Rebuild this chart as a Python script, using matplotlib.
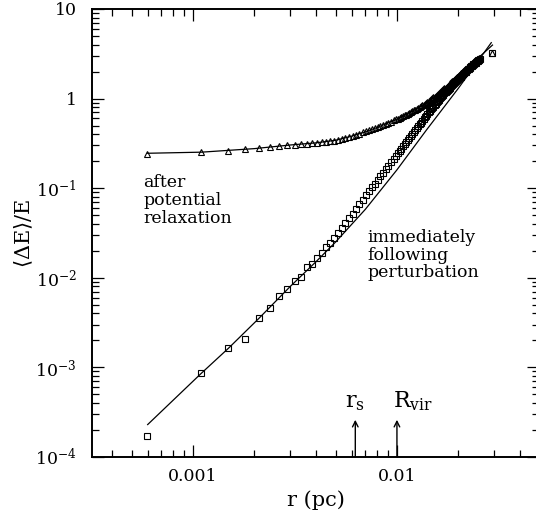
import numpy as np
import matplotlib
matplotlib.use("Agg")
import matplotlib.pyplot as plt
from matplotlib.ticker import FixedLocator, LogLocator, NullFormatter, FixedFormatter

# radii of the shells (pc)
r_pts = [0.000596, 0.00110, 0.00149, 0.00180, 0.00210, 0.00238, 0.00265, 0.00290,
         0.00315, 0.00337, 0.00361, 0.00383, 0.00405, 0.00427, 0.00449, 0.00469,
         0.00491,
         0.00513, 0.00536, 0.00559, 0.00582, 0.00606, 0.0063, 0.00654, 0.00678,
         0.00703, 0.00728, 0.00753, 0.00778, 0.00804, 0.0083, 0.00856, 0.00882,
         0.00909, 0.00936, 0.00963, 0.0099,
         0.0101, 0.0103, 0.0105, 0.0107, 0.0109, 0.0111, 0.0113, 0.0115, 0.0117,
         0.0119, 0.0121, 0.0123, 0.0125, 0.0127, 0.0129, 0.0131, 0.0133, 0.0135,
         0.0137, 0.0139, 0.0141, 0.0143, 0.0145, 0.0147, 0.0149, 0.0151, 0.0153,
         0.0155, 0.0157, 0.0159, 0.0161, 0.0163, 0.0165, 0.0167, 0.0169, 0.0171,
         0.0173, 0.0175, 0.0177, 0.0179, 0.0181, 0.0183, 0.0185, 0.0187, 0.0189,
         0.0191, 0.0193, 0.0195, 0.0197, 0.0199, 0.0201, 0.0203, 0.0205, 0.0207,
         0.0209, 0.0211, 0.0213, 0.0215, 0.0217, 0.0219, 0.0221, 0.0223, 0.0225,
         0.0227, 0.0229, 0.0231, 0.0233, 0.0235, 0.0237, 0.0239, 0.0241, 0.0243,
         0.0245, 0.0247, 0.0249, 0.0251, 0.0253, 0.0255, 0.0294]

# <dE>/E after potential relaxation (triangles)
dE_relax = [0.240, 0.252, 0.262, 0.272, 0.279, 0.288, 0.296, 0.301,
            0.306, 0.311, 0.314, 0.317, 0.320, 0.324, 0.328, 0.332,
            0.336,
            0.345, 0.354, 0.363, 0.373, 0.384, 0.396, 0.407, 0.418,
            0.430, 0.442, 0.454, 0.466, 0.480, 0.494, 0.508, 0.522,
            0.537, 0.553, 0.569, 0.585,
            0.597, 0.610, 0.622, 0.635, 0.648, 0.662, 0.676, 0.690, 0.705,
            0.720, 0.736, 0.752, 0.768, 0.785, 0.802, 0.820, 0.838, 0.857,
            0.877, 0.897, 0.918, 0.940, 0.962, 0.985, 1.007, 1.030, 1.052,
            1.075, 1.100, 1.125, 1.152, 1.180, 1.207, 1.235, 1.265, 1.295,
            1.325, 1.355, 1.387, 1.420, 1.452, 1.485, 1.517, 1.550, 1.585,
            1.620, 1.655, 1.690, 1.725, 1.760, 1.797, 1.835, 1.872, 1.910,
            1.947, 1.985, 2.022, 2.060, 2.100, 2.140, 2.180, 2.220, 2.260,
            2.300, 2.340, 2.380, 2.420, 2.460, 2.500, 2.540, 2.580, 2.620,
            2.660, 2.700, 2.740, 2.780, 2.820, 2.860, 3.25]

# <dE>/E immediately following the perturbation (squares)
dE_immed = [1.71e-4, 8.65e-4, 1.65e-3, 2.07e-3, 3.59e-3, 4.64e-3, 6.26e-3, 7.44e-3,
            9.2e-3, 1.01e-2, 1.33e-2, 1.43e-2, 1.65e-2, 1.90e-2, 2.18e-2, 2.45e-2,
            2.77e-2,
            0.0315, 0.036, 0.041, 0.046, 0.052, 0.059, 0.066, 0.074,
            0.083, 0.092, 0.102, 0.112, 0.124, 0.136, 0.149, 0.163,
            0.178, 0.194, 0.211, 0.229,
            0.244, 0.260, 0.275, 0.292, 0.308, 0.326, 0.344, 0.363, 0.383,
            0.403, 0.424, 0.446, 0.469, 0.492, 0.516, 0.540, 0.565, 0.592,
            0.619, 0.645, 0.672, 0.699, 0.727, 0.755, 0.784, 0.814, 0.846,
            0.878, 0.910, 0.942, 0.974, 1.006, 1.040, 1.074, 1.107, 1.140,
            1.175, 1.210, 1.245, 1.280, 1.317, 1.355, 1.390, 1.425, 1.460,
            1.495, 1.530, 1.560, 1.600, 1.640, 1.680, 1.720, 1.760, 1.800,
            1.840, 1.880, 1.920, 1.960, 2.000, 2.040, 2.080, 2.120, 2.160,
            2.200, 2.240, 2.280, 2.320, 2.360, 2.400, 2.440, 2.480, 2.520,
            2.560, 2.600, 2.640, 2.680, 2.720, 2.760, 3.20]

# model curves
r_mod_relax = [0.0006, 0.0011, 0.002, 0.003, 0.004, 0.005, 0.006, 0.007, 0.008,
               0.010, 0.012, 0.014, 0.017, 0.020, 0.024, 0.0294]
dE_mod_relax = [0.245, 0.252, 0.276, 0.303, 0.320, 0.342, 0.380, 0.425, 0.475,
                0.590, 0.730, 0.900, 1.30, 1.80, 2.60, 3.95]

r_mod_immed = [0.0006, 0.0011, 0.0015, 0.0021, 0.003, 0.004, 0.005, 0.007,
               0.010, 0.014, 0.020, 0.029]
dE_mod_immed = [2.3e-4, 8.6e-4, 1.65e-3, 3.5e-3, 8.0e-3, 1.5e-2, 2.5e-2, 0.058,
                0.16, 0.45, 1.3, 4.2]

# scale radii marked with arrows
r_marks = [0.00625, 0.01]
mark_labels = [r'$\mathrm{r_s}$', r'$\mathrm{R_{vir}}$']

y_ticks = [1e-4, 1e-3, 1e-2, 1e-1, 1, 10]
y_ticklabels = [r'$10^{-4}$', r'$10^{-3}$', r'$10^{-2}$', r'$10^{-1}$', '1', '10']
x_ticks = [0.001, 0.01]
x_ticklabels = ['0.001', '0.01']

plt.rcParams['font.family'] = 'DejaVu Serif'
plt.rcParams['mathtext.fontset'] = 'dejavuserif'

fig = plt.figure(figsize=(5.36, 5.18), dpi=100)
ax = fig.add_axes([0.1716, 0.1178, 0.834, 0.865])

ax.plot(r_mod_relax, dE_mod_relax, '-', color='black', lw=0.9)
ax.plot(r_mod_immed, dE_mod_immed, '-', color='black', lw=0.9)
ax.plot(r_pts, dE_relax, '^', mfc='none', mec='black', ms=4.5, mew=0.8)
ax.plot(r_pts, dE_immed, 's', mfc='none', mec='black', ms=3.8, mew=0.8)

ax.set_xscale('log')
ax.set_yscale('log')
ax.set_xlim(3.2e-4, 0.0497)
ax.set_ylim(1e-4, 10)

ax.xaxis.set_major_locator(FixedLocator(x_ticks))
ax.xaxis.set_major_formatter(FixedFormatter(x_ticklabels))
ax.xaxis.set_minor_locator(LogLocator(base=10, subs=np.arange(2, 10)))
ax.xaxis.set_minor_formatter(NullFormatter())
ax.yaxis.set_major_locator(FixedLocator(y_ticks))
ax.yaxis.set_major_formatter(FixedFormatter(y_ticklabels))
ax.yaxis.set_minor_locator(LogLocator(base=10, subs=np.arange(2, 10)))
ax.yaxis.set_minor_formatter(NullFormatter())

ax.tick_params(which='both', direction='in', top=True, right=True, width=0.9)
ax.tick_params(which='major', length=8.5, labelsize=12.5)
ax.tick_params(axis='y', which='major', pad=11)
ax.tick_params(axis='x', which='major', pad=8)
ax.tick_params(which='minor', length=4.7)
for s in ax.spines.values():
    s.set_linewidth(1.4)

ax.set_xlabel('r (pc)', fontsize=15, labelpad=4)
ax.set_ylabel(r'$\langle\Delta\mathrm{E}\rangle/\mathrm{E}$', fontsize=15, labelpad=0)

# labels
ax.text(0.00057, 0.142, 'after\npotential\nrelaxation', fontsize=12.5,
        va='top', ha='left', linespacing=1.05)
ax.text(0.0072, 0.035, 'immediately\nfollowing\nperturbation', fontsize=12.5,
        va='top', ha='left', linespacing=1.05)

# arrows for r_s and R_vir
for rm, lab in zip(r_marks, mark_labels):
    ax.annotate('', xy=(rm, 2.6e-4), xytext=(rm, 1e-4),
                arrowprops=dict(arrowstyle='->', lw=1.0, color='black',
                                shrinkA=0, shrinkB=0))
ax.text(r_marks[0], 3.6e-4, mark_labels[0], fontsize=16, ha='center', va='baseline')
ax.text(r_marks[1] * 0.955, 3.6e-4, mark_labels[1], fontsize=16, ha='left', va='baseline')

fig.savefig('out.png', dpi=100)
